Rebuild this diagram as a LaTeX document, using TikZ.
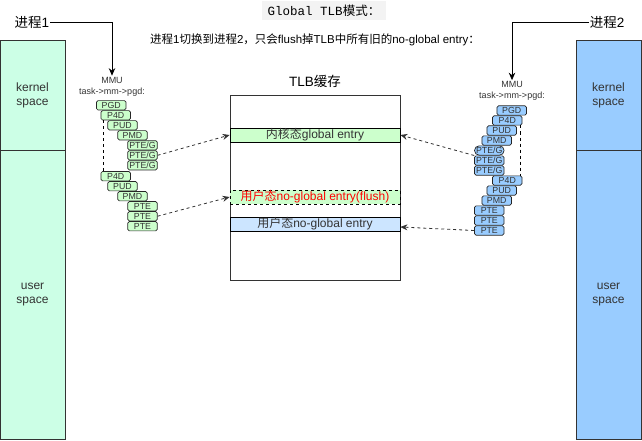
\documentclass[tikz,border=0pt]{standalone}
\usepackage{fontspec}
\setmainfont{Liberation Sans}
\setmonofont{Liberation Mono}
\newfontfamily\cjk{Noto Sans CJK SC}
\usetikzlibrary{arrows.meta,calc}
\definecolor{txt}{HTML}{333333}
\definecolor{mint}{HTML}{CCFFE6}
\definecolor{sky}{HTML}{99CCFF}
\definecolor{lgreen}{HTML}{CCFFCC}
\definecolor{lblue}{HTML}{CCE5FF}
\definecolor{titlebg}{HTML}{F3F3F3}
\begin{document}
\begin{tikzpicture}[x=1pt,y=-1pt,
  colbox/.style={draw=txt, line width=0.8pt, minimum width=65pt, inner sep=0pt, align=center,
    font=\fontsize{12}{14}\selectfont, text=txt},
  pgbox/.style={draw=black!85, line width=0.7pt, rounded corners=1.5pt, minimum width=29.5pt,
    minimum height=9.3pt, inner sep=0pt, font=\fontsize{8.8}{9}\selectfont, text=txt},
  lpg/.style={pgbox, fill=lgreen},
  rpg/.style={pgbox, fill=sky},
  entrybox/.style={draw=black, line width=0.8pt, minimum width=170pt, minimum height=14pt, inner sep=0pt,
    font=\fontsize{12}{14}\selectfont, text=txt},
  lbl/.style={inner sep=1pt, text=txt},
  darrow/.style={draw=txt, dashed, line width=0.8pt, -{Stealth[length=7pt,width=6pt]}},
  sarrow/.style={draw=black, line width=0.8pt, -{Stealth[length=7.5pt,width=6.5pt]}},
  vdash/.style={draw=black, dashed, line width=0.8pt}
]
\useasboundingbox (0,0) rectangle (642,441);

% title and subtitle
\node[fill=titlebg, minimum width=124pt, minimum height=19pt, inner sep=0pt, text=black,
  font=\fontsize{12.5}{14}\selectfont] (title) at (324,11) {\texttt{Global TLB}{\cjk 模式：}};
\node[lbl, text=black, font=\fontsize{11.5}{14}\selectfont] (sub) at (315,40)
  {{\cjk 进程}1{\cjk 切换到进程}2{\cjk ，只会}flush{\cjk 掉}TLB{\cjk 中所有旧的}no-global entry{\cjk ：}};

% address spaces
\node[colbox, fill=mint, minimum height=110pt] (lk) at (32.5,95) {kernel\\space};
\node[colbox, fill=mint, minimum height=289pt] (lu) at (32.5,294.5) {user\\space};
\node[colbox, fill=sky, minimum height=110pt] (rk) at (608.5,95) {kernel\\space};
\node[colbox, fill=sky, minimum height=289pt] (ru) at (608.5,294.5) {user\\space};

% process labels
\node[lbl, text=black, font=\fontsize{13.5}{15}\selectfont] (p1) at (32,22) {{\cjk 进程}1};
\node[lbl, text=black, font=\fontsize{13.5}{15}\selectfont] (p2) at (607,22) {{\cjk 进程}2};

% MMU labels
\node[lbl, font=\fontsize{9}{10}\selectfont] (mmuL) at (112,80) {MMU};
\node[lbl, font=\fontsize{9}{10}\selectfont] (pgdL) at (112,92) {task->mm->pgd:};
\node[lbl, font=\fontsize{9}{10}\selectfont] (mmuR) at (512,84.5) {MMU};
\node[lbl, font=\fontsize{9}{10}\selectfont] (pgdR) at (512,96.5) {task->mm->pgd:};

\draw[sarrow] (p1.east) -| (mmuL.north);
\draw[sarrow] (p2.west) -| (mmuR.north);

% TLB cache
\node[lbl, text=black, font=\fontsize{13.5}{15}\selectfont] (tlbl) at (315,81) {TLB{\cjk 缓存}};
\node[draw=txt, line width=0.9pt, minimum width=170pt, minimum height=185pt, inner sep=0pt] (tlb) at (315,187.5) {};
\node[entrybox, fill=lgreen] (e1) at (315,135) {{\cjk 内核态}global entry};
\node[entrybox, fill=lgreen, dashed, text=red] (e2) at (315,197) {{\cjk 用户态}no-global entry(flush)};
\node[entrybox, fill=lblue] (e3) at (315,224) {{\cjk 用户态}no-global entry};

% left page table stack
\node[lpg] (lpgd) at (111.2,105.3) {PGD};
\node[lpg] (lp4d) at (115.7,115.3) {P4D};
\node[lpg] (lpud) at (122.5,125.3) {PUD};
\node[lpg] (lpmd) at (132.5,135.3) {PMD};
\node[lpg] (lg1) at (142.5,145.3) {PTE/G};
\node[lpg] (lg2) at (142.5,155.3) {PTE/G};
\node[lpg] (lg3) at (142.5,165.3) {PTE/G};
\node[lpg] (lp4d2) at (115.7,176.2) {P4D};
\node[lpg] (lpud2) at (122.5,186.2) {PUD};
\node[lpg] (lpmd2) at (132.5,196.2) {PMD};
\node[lpg] (lt1) at (142.5,206.2) {PTE};
\node[lpg] (lt2) at (142.5,216.2) {PTE};
\node[lpg] (lt3) at (142.5,226.2) {PTE};
\draw[vdash] ($(lp4d.south west)+(2.6,0)$) -- ($(lp4d2.north west)+(2.6,0)$);

% right page table stack
\node[rpg] (rpgd) at (511.7,110.5) {PGD};
\node[rpg] (rp4d) at (507.3,120.5) {P4D};
\node[rpg] (rpud) at (501.7,130.5) {PUD};
\node[rpg] (rpmd) at (496.7,140.5) {PMD};
\node[rpg, rounded corners=4.5pt] (rg1) at (489.3,150.5) {PTE/G};
\node[rpg] (rg2) at (489.3,160.5) {PTE/G};
\node[rpg] (rg3) at (489.3,170.5) {PTE/G};
\node[rpg] (rp4d2) at (507.3,180.5) {P4D};
\node[rpg] (rpud2) at (501.7,190.5) {PUD};
\node[rpg] (rpmd2) at (496.7,200.5) {PMD};
\node[rpg] (rt1) at (489.3,210.5) {PTE};
\node[rpg] (rt2) at (489.3,220.5) {PTE};
\node[rpg] (rt3) at (489.3,230.5) {PTE};
\draw[vdash] ($(rp4d.south east)+(-1.8,0)$) -- ($(rp4d2.north east)+(-1.8,0)$);

% dashed connectors
\draw[darrow] (lg2.east) -- (e1.west);
\draw[darrow] (lt2.east) -- (e2.west);
\draw[darrow] (rg2.north west) -- (e1.east);
\draw[darrow] (rt3.west) -- ($(e3.east)+(0,3)$);
\end{tikzpicture}
\end{document}
